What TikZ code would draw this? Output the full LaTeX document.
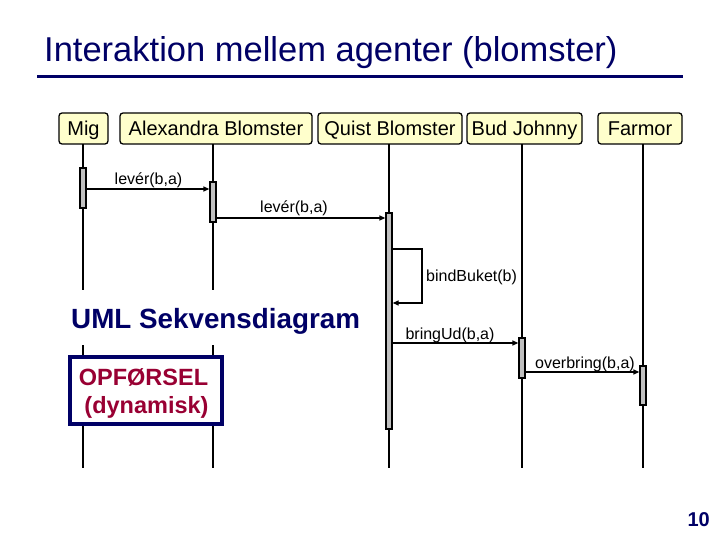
\documentclass[tikz,border=0pt]{standalone}
\usepackage{fontspec}
\setmainfont{Liberation Sans}
\usetikzlibrary{arrows.meta}
\definecolor{navy}{RGB}{0,0,102}
\definecolor{darkred}{RGB}{153,0,51}
\definecolor{headfill}{RGB}{255,255,204}
\definecolor{barfill}{RGB}{192,192,192}
\begin{document}
\begin{tikzpicture}[x=1pt,y=-1pt,
  headbox/.style={draw=black,line width=1.3pt,rounded corners=3pt,fill=headfill,
    minimum height=31pt,inner sep=0pt,text height=14.5pt,text depth=0pt,
    font=\fontsize{20}{22}\selectfont},
  lifeline/.style={draw=black,line width=1.3pt},
  actbar/.style={draw=black,line width=1.3pt,fill=barfill,minimum width=6pt,inner sep=0pt},
  msg/.style={draw=black,line width=1.3pt,-{Triangle[length=6pt,width=5pt]}},
  msglabel/.style={inner sep=0pt,font=\fontsize{16}{18}\selectfont},
]
\useasboundingbox (0,0) rectangle (720,540);
\fill[white] (0,0) rectangle (720,540);

% title
\node[anchor=base west,inner sep=0pt,text=navy,font=\fontsize{34.5}{38}\selectfont] (title) at (44,62) {Interaktion mellem agenter (blomster)};
\coordinate (ruleL) at (37,77);
\coordinate (ruleR) at (683,77);
\draw[navy,line width=3pt] (ruleL) -- (ruleR);

% heads
\node[headbox,minimum width=49pt] (mig) at (83.5,128.5) {Mig};
\node[headbox,minimum width=192pt] (alex) at (216,128.5) {Alexandra Blomster};
\node[headbox,minimum width=144pt] (quist) at (390,128.5) {Quist Blomster};
\node[headbox,minimum width=115pt] (bud) at (524.5,128.5) {Bud Johnny};
\node[headbox,minimum width=84pt] (farmor) at (640,128.5) {Farmor};

% lifelines
\coordinate (migT) at (83,144);   \coordinate (migE) at (83,468);
\coordinate (alexT) at (213,144); \coordinate (alexE) at (213,468);
\coordinate (quistT) at (389,144);\coordinate (quistE) at (389,468);
\coordinate (budT) at (522,144);  \coordinate (budE) at (522,468);
\coordinate (farT) at (643,144);  \coordinate (farE) at (643,468);
\draw[lifeline] (migT) -- (migE);
\draw[lifeline] (alexT) -- (alexE);
\draw[lifeline] (quistT) -- (quistE);
\draw[lifeline] (budT) -- (budE);
\draw[lifeline] (farT) -- (farE);

% UML label
\fill[white] (69,290) rectangle (364,345);
\node[anchor=base west,inner sep=0pt,text=navy,font=\bfseries\fontsize{27.8}{30}\selectfont] (uml) at (71,328) {UML Sekvensdiagram};

% OPFORSEL box
\node[draw=navy,line width=4pt,fill=white,minimum width=152pt,minimum height=67pt,inner sep=0pt] (beh) at (146,390.5) {};
\node[anchor=base,inner sep=0pt,text=darkred,font=\bfseries\fontsize{23.5}{26}\selectfont] (beh1) at (143.5,385.5) {OPFØRSEL};
\node[anchor=base,inner sep=0pt,text=darkred,font=\bfseries\fontsize{23.5}{26}\selectfont] (beh2) at (146.5,413) {(dynamisk)};

% activation bars
\node[actbar,minimum height=40pt] (bMig) at (83,188) {};
\node[actbar,minimum height=40pt] (bAlex) at (213,202) {};
\node[actbar,minimum height=216pt] (bQuist) at (389,321) {};
\node[actbar,minimum height=40pt] (bBud) at (522,358) {};
\node[actbar,minimum height=39pt] (bFar) at (643,385.5) {};

% messages
\draw[msg] (bMig.east |- 0,189) -- (bAlex.west |- 0,189);
\node[msglabel,anchor=base] (l1) at (148.5,185) {levér(b,a)};
\draw[msg] (bAlex.east |- 0,218) -- (bQuist.west |- 0,218);
\node[msglabel,anchor=base] (l2) at (294,213) {levér(b,a)};
\coordinate (loopA) at (422,249);
\coordinate (loopB) at (422,303);
\draw[msg] (bQuist.east |- loopA) -- (loopA) -- (loopB) -- (bQuist.east |- loopB);
\node[msglabel,anchor=base west] (l3) at (426,281) {bindBuket(b)};
\draw[msg] (bQuist.east |- 0,343) -- (bBud.west |- 0,343);
\node[msglabel,anchor=base] (l4) at (450,339) {bringUd(b,a)};
\draw[msg] (bBud.east |- 0,372) -- (bFar.west |- 0,372);
\node[msglabel,anchor=base] (l5) at (585,368) {overbring(b,a)};

% page number
\node[anchor=base east,inner sep=0pt,text=navy,font=\bfseries\fontsize{20}{22}\selectfont] (page) at (710,526) {10};
\end{tikzpicture}
\end{document}
